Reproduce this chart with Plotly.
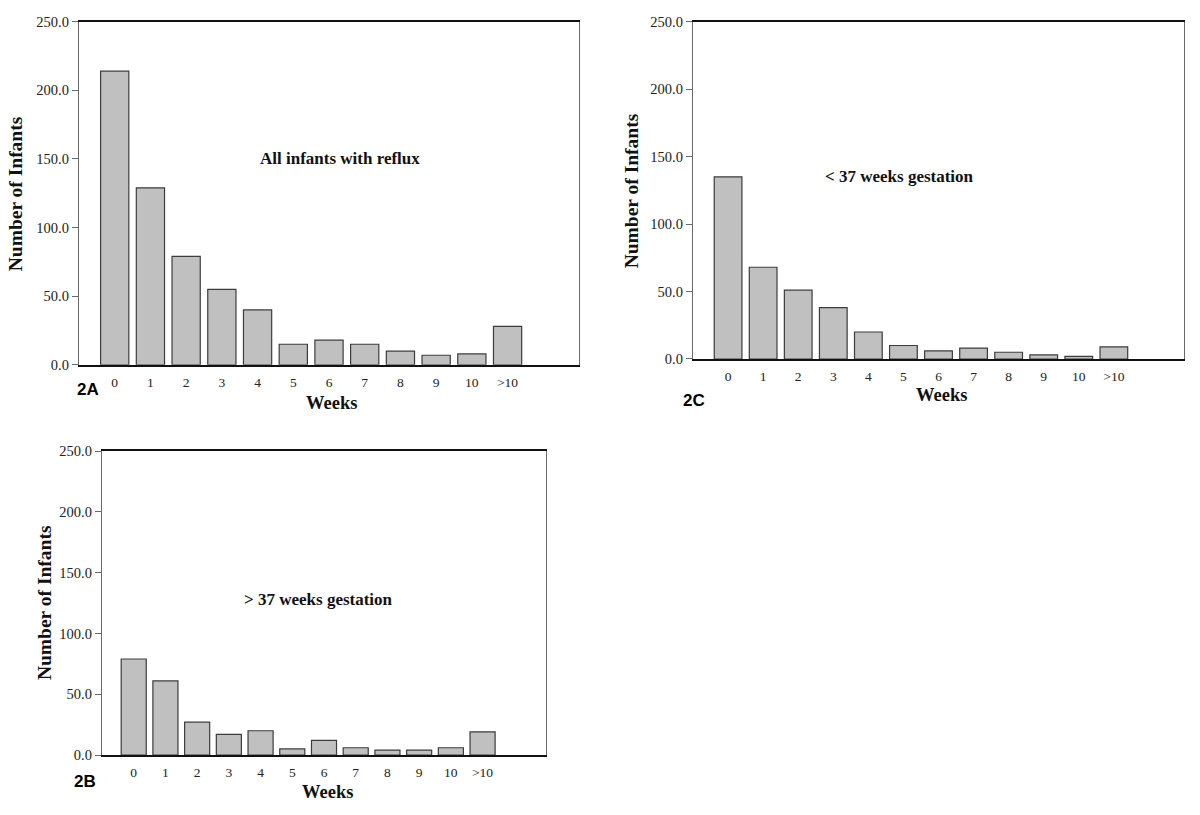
import plotly.graph_objects as go

weeks = ["0", "1", "2", "3", "4", "5", "6", "7", "8", "9", "10", ">10"]
all_infants = [214, 129, 79, 55, 40, 15, 18, 15, 10, 7, 8, 28]
preterm = [135, 68, 51, 38, 20, 10, 6, 8, 5, 3, 2, 9]
term = [79, 61, 27, 17, 20, 5, 12, 6, 4, 4, 6, 19]
y_ticks = [0, 50, 100, 150, 200, 250]

W, H = 1200, 815
SERIF = "Liberation Serif, Times New Roman, serif"
SANS = "Liberation Sans, Arial, sans-serif"


def px_x(v):
    return v / W


def px_y(v):
    return 1 - v / H


panels = [
    # (axis suffix, data, x px domain, y px domain)
    ("", all_infants, (79, 579), (14, 364)),
    ("2", preterm, (693, 1184), (14, 358)),
    ("3", term, (102, 546), (452, 762)),
]

fig = go.Figure()
layout = dict(
    width=W, height=H,
    margin=dict(l=0, r=0, t=0, b=0),
    paper_bgcolor="white", plot_bgcolor="white",
    showlegend=False,
)

for suf, vals, (x0, x1), (y0, y1) in panels:
    fig.add_trace(go.Bar(
        x=weeks, y=vals, width=0.79,
        marker=dict(color="#c0c0c0", line=dict(color="#3c3c3c", width=1.2)),
        xaxis="x" + suf, yaxis="y" + suf, hoverinfo="x+y",
    ))
    layout["xaxis" + suf] = dict(
        domain=[px_x(x0), px_x(x1)], anchor="y" + suf,
        type="category", range=[-1, 13],
        showline=True, linecolor="#111111", linewidth=1.6, mirror=True,
        ticks="", showgrid=False, zeroline=False,
        tickfont=dict(family=SERIF, size=13.5, color="#222222"),
        ticklabelstandoff=4,
        fixedrange=True,
    )
    layout["yaxis" + suf] = dict(
        domain=[px_y(y1), px_y(y0)], anchor="x" + suf,
        range=[0, 250], tickvals=y_ticks, tickformat=".1f",
        showline=True, linecolor="#6a6a6a", linewidth=1.4, mirror=True,
        ticks="outside", ticklen=6, tickcolor="#6a6a6a", tickwidth=1,
        showgrid=False, zeroline=False,
        tickfont=dict(family=SERIF, size=14.5, color="#222222"),
        fixedrange=True,
    )

annotations = []


def add_text(text, x, y, font, size, bold=True, angle=0, color="#111111"):
    annotations.append(dict(
        text=("<b>%s</b>" % text) if bold else text,
        x=px_x(x), y=px_y(y), xref="paper", yref="paper",
        xanchor="center", yanchor="middle", showarrow=False,
        textangle=angle, borderpad=0,
        font=dict(family=font, size=size, color=color),
    ))


# panel titles inside plots
add_text("All infants with reflux", 340, 154, SERIF, 17)
add_text("&lt; 37 weeks gestation", 899, 172, SERIF, 17)
add_text("&gt; 37 weeks gestation", 318, 603, SERIF, 17)

# y-axis titles
add_text("Number of Infants", 15, 190, SERIF, 19.5, angle=-90)
add_text("Number of Infants", 631, 187, SERIF, 19.5, angle=-90)
add_text("Number of Infants", 44, 607, SERIF, 19.5, angle=-90)

# x-axis titles
add_text("Weeks", 331, 403, SERIF, 18.5)
add_text("Weeks", 941, 395, SERIF, 18.5)
add_text("Weeks", 327, 800, SERIF, 18.5)

# panel labels
add_text("2A", 88, 389, SANS, 17, color="#000000")
add_text("2C", 694, 400, SANS, 17, color="#000000")
add_text("2B", 85, 789, SANS, 17, color="#000000")

layout["annotations"] = annotations
fig.update_layout(**layout)

fig.write_html(
    "out.html",
    config={"displayModeBar": False},
    post_script="document.body.style.margin='0px';"
                "document.body.style.overflow='hidden';",
)
